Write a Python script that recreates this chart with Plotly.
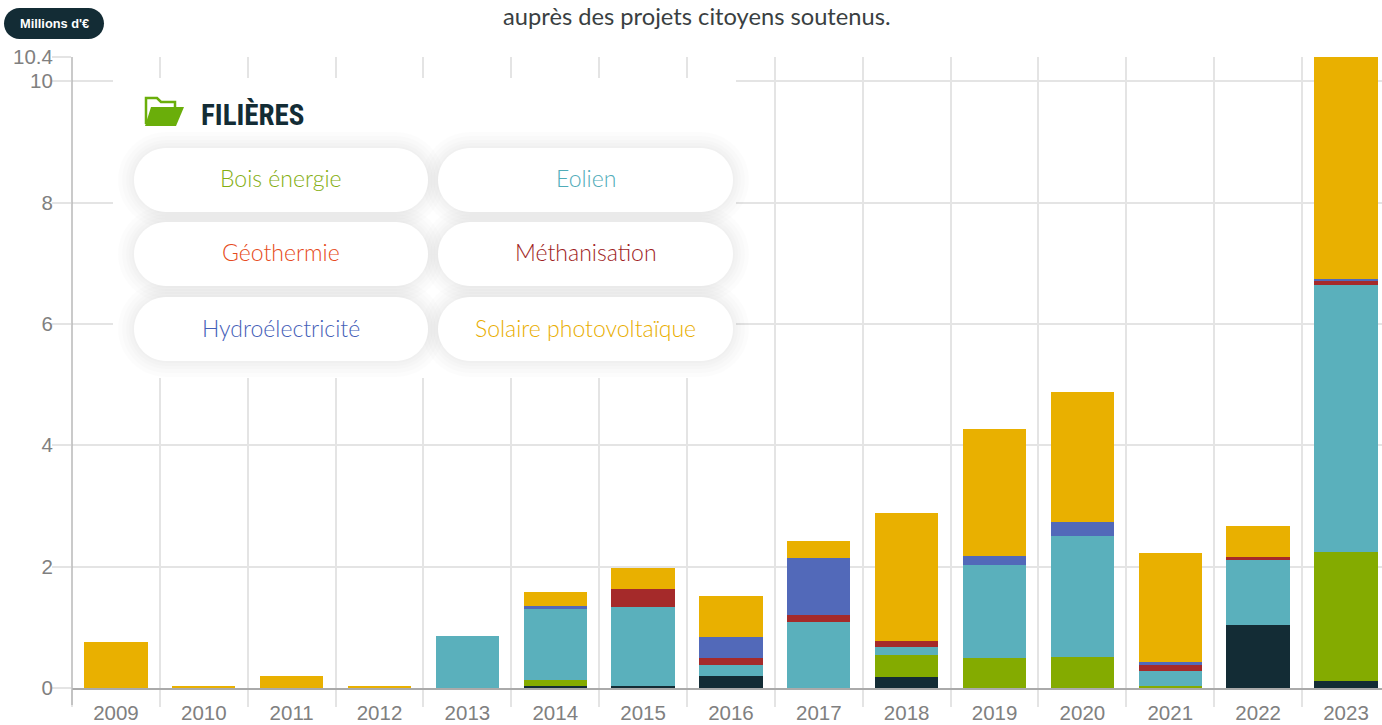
import plotly.graph_objects as go

years = ["2009","2010","2011","2012","2013","2014","2015","2016","2017","2018","2019","2020","2021","2022","2023"]
autres =        [0,0,0,0,0.005,0.03,0.027,0.198,0,0.185,0,0.005,0,1.032,0.11]
bois =          [0,0,0,0,0,0.107,0,0,0,0.353,0.50,0.506,0.03,0,2.13]
eolien =        [0,0,0,0,0.855,1.163,1.303,0.187,1.08,0.142,1.526,1.994,0.245,1.071,4.40]
geothermie =    [0]*15
methanisation = [0,0,0,0,0,0,0.30,0.104,0.12,0.089,0,0,0.109,0.055,0.08]
hydro =         [0,0,0,0,0,0.05,0,0.346,0.94,0,0.149,0.225,0.044,0,0.02]
solaire =       [0.76,0.02,0.20,0.04,0,0.226,0.35,0.675,0.28,2.114,2.095,2.145,1.796,0.511,3.66]

series = [
    ("Autres", autres, "#132C35"),
    ("Bois énergie", bois, "#84AB00"),
    ("Eolien", eolien, "#5AB0BC"),
    ("Géothermie", geothermie, "#E8603C"),
    ("Méthanisation", methanisation, "#A52A2A"),
    ("Hydroélectricité", hydro, "#5269B9"),
    ("Solaire photovoltaïque", solaire, "#E9B000"),
]
y_ticks = [0, 2, 4, 6, 8, 10, 10.4]
y_labels = ["0", "2", "4", "6", "8", "10", "10.4"]
legend_items = [
    ("Bois énergie", "#84AE10"), ("Eolien", "#50ACB9"),
    ("Géothermie", "#E64A20"), ("Méthanisation", "#A01E1E"),
    ("Hydroélectricité", "#4560B8"), ("Solaire photovoltaïque", "#E9AE00"),
]

W, H = 1382, 725
L, R, T, B = 72, 1382, 57, 688
def px(x): return (x - L) / (R - L)
def py(y): return (B - y) / (B - T)

def rrect(x0, y0, x1, y1, r, fill, opacity=1.0):
    k = 0.5523 * r
    P = lambda x, y: f"{px(x):.5f},{py(y):.5f}"
    d = (f"M{P(x0+r,y0)} L{P(x1-r,y0)} C{P(x1-r+k,y0)} {P(x1,y0+r-k)} {P(x1,y0+r)} "
         f"L{P(x1,y1-r)} C{P(x1,y1-r+k)} {P(x1-r+k,y1)} {P(x1-r,y1)} "
         f"L{P(x0+r,y1)} C{P(x0+r-k,y1)} {P(x0,y1-r+k)} {P(x0,y1-r)} "
         f"L{P(x0,y0+r)} C{P(x0,y0+r-k)} {P(x0+r-k,y0)} {P(x0+r,y0)} Z")
    return dict(type="path", xref="paper", yref="paper", path=d, fillcolor=fill,
                opacity=opacity, line=dict(width=0), layer="above")

fig = go.Figure()
for name, vals, col in series:
    fig.add_bar(x=years, y=vals, name=name, marker=dict(color=col, line=dict(width=0)))

shapes = []
shapes.append(dict(type="line", xref="paper", yref="paper", x0=0, x1=0, y0=py(705), y1=1,
                   line=dict(color="#b8b8b8", width=1.5), layer="above"))
shapes.append(dict(type="rect", xref="paper", yref="paper", x0=px(113), x1=px(736), y0=py(378), y1=py(78),
                   fillcolor="white", line=dict(width=0), layer="above"))
pills = [(134,148,428,212),(438,148,733,212),(134,222,428,286),(438,222,733,286),(134,297,428,361),(438,297,733,361)]
for (a,b,c,d) in pills:
    for g in (16, 12, 8, 5, 2):
        shapes.append(rrect(a-g, b-g, c+g, d+g, 32+g, "#000000", 0.01))
for (a,b,c,d) in pills:
    shapes.append(rrect(a, b, c, d, 32, "#ffffff"))
shapes.append(rrect(4, 8, 104, 39, 15.5, "#132C35"))
P = lambda x, y: f"{px(x):.5f},{py(y):.5f}"
shapes.append(dict(type="path", xref="paper", yref="paper", layer="above",
    path=f"M{P(146,124)} L{P(146,98)} L{P(157,98)} L{P(161,102)} L{P(175,102)} L{P(175,108)}",
    fillcolor="rgba(0,0,0,0)", line=dict(width=2.5, color="#6AAE0A")))
shapes.append(dict(type="path", xref="paper", yref="paper", layer="above",
    path=f"M{P(145,126)} L{P(151,107)} L{P(184,107)} L{P(176,126)} Z",
    fillcolor="#6AAE0A", line=dict(width=0)))

ann = []
def text(x, y, s, size, color, family, bold=False, anchor="center", weight=None):
    f = dict(size=size, color=color, family=family)
    if weight:
        f["weight"] = weight
    ann.append(dict(xref="paper", yref="paper", x=px(x), y=py(y), text=f"<b>{s}</b>" if bold else s,
                    showarrow=False, xanchor=anchor, yanchor="middle", font=f))
text(697, 16, "auprès des projets citoyens soutenus.", 23.7, "#3a3f42", "Lato")
text(54, 24, "Millions d'€", 12.8, "#ffffff", "Liberation Sans", True)
text(198.5, 115, "FILIÈRES", 29, "#132C35", "Roboto Condensed, Roboto", True, "left")
centers = [(281,177.5),(585.5,177.5),(281,252.5),(585.5,252.5),(281,327.5),(585.5,327.5)]
for (cx, cy), (lab, col) in zip(centers, legend_items):
    text(cx, cy, lab, 23, col, "Lato", weight=300)

fig.update_layout(
    width=W, height=H, barmode="stack", bargap=0.28, showlegend=False,
    paper_bgcolor="white", plot_bgcolor="white",
    margin=dict(l=L, r=W-R, t=T, b=H-B, pad=0, autoexpand=False),
    shapes=shapes, annotations=ann,
    font=dict(family="Liberation Sans", color="#808080", size=20),
)
fig.update_xaxes(type="category", range=[-0.5, 14.41], tickson="boundaries", ticks="outside", ticklen=17,
                 tickcolor="#e4e4e4", tickwidth=1.5, showgrid=True, gridcolor="#e4e4e4", gridwidth=1.5,
                 showline=True, linecolor="#aaaaaa", linewidth=1.5, tickfont=dict(size=20.5, color="#808080"),
                 ticklabelstandoff=6, zeroline=False, automargin=False)
fig.update_yaxes(range=[0, 10.4], tickmode="array", tickvals=y_ticks, ticktext=y_labels, ticks="outside",
                 ticklen=19, tickcolor="#e4e4e4", tickwidth=1.5, showgrid=True, gridcolor="#e4e4e4", gridwidth=1.5,
                 ticklabelstandoff=-5, showline=False, zeroline=False, automargin=False,
                 tickfont=dict(size=20.5, color="#808080"))

fig.write_html("out.html", config=dict(displayModeBar=False),
               post_script="document.body.style.margin='0';document.body.style.overflow='hidden';")
